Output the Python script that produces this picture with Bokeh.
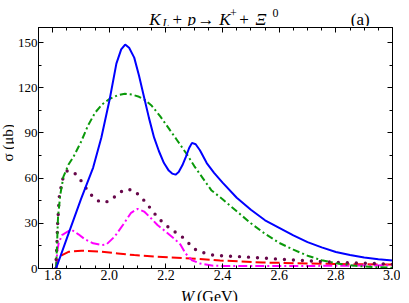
import math
from bokeh.plotting import figure
from bokeh.models import Range1d, FixedTicker, LinearAxis
from bokeh.layouts import column, row
from bokeh.core.properties import value
from bokeh.embed import file_html
from bokeh.resources import INLINE

# ---------------- data ----------------
x_ticks = [1.8, 2.0, 2.2, 2.4, 2.6, 2.8, 3.0]
x_tick_labels = ["1.8", "2.0", "2.2", "2.4", "2.6", "2.8", "3.0"]
x_minor = [1.75, 1.8, 1.85, 1.9, 1.95, 2.0, 2.05, 2.1, 2.15, 2.2, 2.25, 2.3, 2.35, 2.4,
           2.45, 2.5, 2.55, 2.6, 2.65, 2.7, 2.75, 2.8, 2.85, 2.9, 2.95, 3.0]
y_ticks = [0, 30, 60, 90, 120, 150]
y_tick_labels = ["0", "30", "60", "90", "120", "150"]
y_minor = [0, 15, 30, 45, 60, 75, 90, 105, 120, 135, 150]

# total (blue solid)
w_total = [1.812, 1.85, 1.9, 1.943, 1.972, 2.001, 2.025, 2.042, 2.056, 2.07, 2.088, 2.105,
           2.123, 2.14, 2.158, 2.175, 2.193, 2.21, 2.222, 2.234, 2.245, 2.258, 2.27, 2.282,
           2.292, 2.305, 2.32, 2.344, 2.37, 2.4, 2.45, 2.5, 2.55, 2.6, 2.65, 2.7, 2.75,
           2.8, 2.85, 2.9, 2.95, 3.0]
s_total = [0, 20, 46, 67, 87, 112, 136, 145.5, 148.7, 146.5, 140, 128,
           113.5, 100, 87, 78, 70, 65, 63, 62.3, 64, 68.5, 74, 80,
           83.4, 82.5, 78.5, 70, 63.5, 57, 47, 39, 32, 27, 22, 17.5, 14,
           11, 9, 7.3, 6.2, 5.3]

# green dash-dot
w_green = [1.812, 1.815, 1.819, 1.827, 1.838, 1.856, 1.873, 1.9, 1.925, 1.95, 1.975, 2.0,
           2.03, 2.055, 2.08, 2.105, 2.125, 2.15, 2.18, 2.21, 2.24, 2.275, 2.3, 2.33,
           2.36, 2.4, 2.45, 2.5, 2.55, 2.6, 2.65, 2.7, 2.75, 2.8, 2.85, 2.9, 2.95, 3.0]
s_green = [0, 13.4, 34.5, 49, 61, 69, 74, 84, 95, 103.5, 109, 112.5,
           115, 116, 115.5, 114, 112, 108, 101, 93, 85, 75.5, 68, 60,
           52, 46, 38, 30, 23, 17, 12.5, 8.5, 5.5, 3.5, 2.2, 1.3, 0.8, 0.5]

# maroon dotted
w_dot = [1.811, 1.813, 1.815, 1.816, 1.817, 1.819, 1.821, 1.823, 1.829, 1.836, 1.852, 1.879,
         1.902, 1.92, 1.943, 1.969, 1.998, 2.025, 2.051, 2.082, 2.108, 2.131, 2.152,
         2.173, 2.199, 2.224, 2.253, 2.277, 2.301, 2.332, 2.365, 2.396, 2.466, 2.53,
         2.6, 2.664, 2.7, 2.765, 2.8, 2.862, 2.931, 3.0]
s_dot = [0, 8.9, 15.1, 21.1, 27.8, 33.8, 40.5, 47.2, 53.4, 59.6, 65, 63,
         57.9, 52.7, 47.4, 43.9, 44.5, 48.5, 52.3, 52.3, 48.3, 43.4, 38.3,
         33.4, 28.9, 25.2, 21.8, 17.4, 12.9, 10.5, 8.9, 8.5, 7.8, 7.1,
         6.2, 5.5, 5.1, 4.5, 4.0, 3.8, 3.3, 2.9]

# magenta dash-dot
w_mag = [1.812, 1.816, 1.821, 1.833, 1.856, 1.868, 1.891, 1.914, 1.943, 1.972, 1.99,
         2.019, 2.048, 2.077, 2.1, 2.123, 2.147, 2.17, 2.199, 2.228, 2.251, 2.269,
         2.292, 2.321, 2.367, 2.4, 2.5, 2.6, 2.7, 2.8, 2.9, 3.0]
s_mag = [0, 11, 16.7, 22.2, 24.9, 25.6, 22.7, 19.4, 16.7, 15.6, 16,
         21.2, 28.9, 37, 39.6, 37.8, 33.4, 28.9, 24.5, 20, 16, 10,
         5.5, 3.3, 1.8, 1.7, 1.6, 1.6, 1.7, 1.8, 2.0, 2.2]

# red dashed
w_red = [1.812, 1.816, 1.821, 1.833, 1.856, 1.902, 1.972, 2.03, 2.088, 2.17, 2.286,
         2.391, 2.542, 2.705, 2.85, 3.0]
s_red = [0, 3.5, 6.7, 8.9, 11.1, 11.8, 11.1, 10, 8.9, 7.8, 6.7,
         5.3, 4.0, 3.3, 2.9, 2.6]

# text pieces of the title:  K_L + p -> K^+ + Xi^0   (a)
title_parts = ["K", "L", "+", "p", "\u2192", "K", "+", "+", "\u039e", "0", "(a)"]
x_label_parts = ["W", "(GeV)"]
y_label_text = "\u03c3  (\u03bcb)"

# ---------------- layout constants ----------------
SERIF = "Liberation Serif"
XMIN, XMAX, YMIN, YMAX = 1.75, 3.0, 0, 160
TOTAL_W = 400
TITLE_H = 26
YLAB_W = 14
MAIN_W = TOTAL_W - YLAB_W
MAIN_H = 259
XLAB_H = 16


def text_fig(w, h):
    f = figure(width=w, height=h, output_backend="svg", toolbar_location=None,
               x_range=Range1d(0, w), y_range=Range1d(0, h),
               min_border=0, min_border_left=0, min_border_right=0,
               min_border_top=0, min_border_bottom=0,
               x_axis_location=None, y_axis_location=None)
    f.xgrid.visible = False
    f.ygrid.visible = False
    f.outline_line_color = None
    f.background_fill_color = None
    f.border_fill_color = None
    return f


# ---------------- main figure ----------------
p = figure(width=MAIN_W, height=MAIN_H, output_backend="svg", toolbar_location=None,
           x_range=Range1d(XMIN, XMAX), y_range=Range1d(YMIN, YMAX),
           min_border_left=20, min_border_right=8, min_border_top=1, min_border_bottom=17,
           x_axis_location=None, y_axis_location=None)
p.xgrid.visible = False
p.ygrid.visible = False
p.outline_line_color = "black"
p.outline_line_width = 1
p.background_fill_color = "white"
p.border_fill_color = None


def style_axis(ax, show_labels, size):
    ax.axis_line_color = "black"
    ax.major_tick_in = 5
    ax.major_tick_out = 0
    ax.minor_tick_in = 3
    ax.minor_tick_out = 0
    ax.major_tick_line_color = "black"
    ax.minor_tick_line_color = "black"
    ax.major_label_text_font = SERIF
    if show_labels:
        ax.major_label_text_color = "black"
        ax.major_label_text_font_size = size
        ax.major_label_standoff = 1
    else:
        ax.major_label_text_color = None
        ax.major_label_text_font_size = "1px"
        ax.major_label_standoff = 0


xt = FixedTicker(ticks=x_ticks, minor_ticks=x_minor)
yt = FixedTicker(ticks=y_ticks, minor_ticks=y_minor)

bx = LinearAxis(ticker=xt, major_label_overrides=dict(zip(x_ticks, x_tick_labels)))
style_axis(bx, True, "14px")
p.add_layout(bx, "below")
tx = LinearAxis(ticker=xt)
style_axis(tx, False, "1px")
p.add_layout(tx, "above")
ly = LinearAxis(ticker=yt, major_label_overrides=dict(zip(y_ticks, y_tick_labels)))
style_axis(ly, True, "13px")
p.add_layout(ly, "left")
ry = LinearAxis(ticker=yt)
style_axis(ry, False, "1px")
p.add_layout(ry, "right")

# curves
p.line(w_red, s_red, line_color="#ff0000", line_width=2, line_dash="10 4")
p.line(w_mag, s_mag, line_color="#ff00ff", line_width=2, line_dash="9 3 2 3")
p.line(w_dot, s_dot, line_color="#67074a", line_width=3.4, line_dash="0 9", line_cap="round")
p.line(w_green, s_green, line_color="#0a990a", line_width=2, line_dash="7 3 2 3")
p.line(w_total, s_total, line_color="#0000ff", line_width=2)

# ---------------- title strip (x: canvas px, y: px above strip bottom) ----------------
tf = text_fig(TOTAL_W, TITLE_H)
t_pos = [(148.7, 6.8, "17px", "italic"), (162.0, 3.2, "12px", "italic"),
         (172.0, 6.8, "17px", "normal"), (187.0, 6.8, "17px", "italic"),
         (197.0, 6.8, "17px", "normal"), (218.7, 6.8, "17px", "italic"),
         (229.5, 13.2, "12px", "normal"), (238.7, 6.8, "17px", "normal"),
         (255.0, 6.8, "17px", "italic"), (272.0, 13.2, "12px", "normal"),
         (350.3, 6.8, "17px", "normal")]
for txt, (tx_, ty_, sz, st) in zip(title_parts, t_pos):
    tf.text(x=[tx_], y=[ty_], text=[txt], text_font=value(SERIF), text_font_size=value(sz),
            text_font_style=value(st), text_align="left", text_baseline="alphabetic",
            text_color="black")

# ---------------- y label strip ----------------
yf = text_fig(YLAB_W, MAIN_H)
yf.text(x=[7.0], y=[137], text=[y_label_text], text_font=value(SERIF),
        text_font_size=value("15px"), text_align="center", text_baseline="middle",
        angle=math.pi / 2, text_color="black")

# ---------------- x label strip ----------------
xf = text_fig(TOTAL_W, XLAB_H)
xl_pos = [(180.3, 5.0, "italic"), (196.5, 5.0, "normal")]
for txt, (lx, lyy, st) in zip(x_label_parts, xl_pos):
    xf.text(x=[lx], y=[lyy], text=[txt], text_font=value(SERIF), text_font_size=value("16px"),
            text_font_style=value(st), text_align="left", text_baseline="alphabetic",
            text_color="black")

layout = column(tf, row(yf, p, spacing=0), xf, spacing=0)
open("out.html", "w").write(file_html(layout, INLINE))
